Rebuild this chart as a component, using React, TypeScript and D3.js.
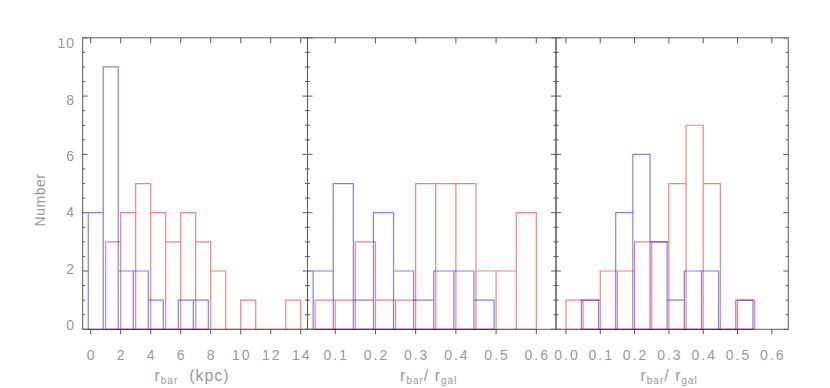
import React from "react";
import * as d3 from "d3";

// ---- data ----
const yTickValues = [0, 2, 4, 6, 8, 10];
const p1TickValues = [0, 2, 4, 6, 8, 10, 12, 14];
const p2TickValues = [0.1, 0.2, 0.3, 0.4, 0.5, 0.6];
const p3TickValues = [0.0, 0.1, 0.2, 0.3, 0.4, 0.5, 0.6];

// panel 1: r_bar (kpc), bin width 1
const p1BlueStart = -0.16;
const p1BlueCounts = [4, 9, 2, 2, 1, 0, 1, 1];
const p1RedStart = 1;
const p1RedCounts = [3, 4, 5, 4, 3, 4, 3, 2, 0, 1, 0, 0, 1];

// panel 2: r_bar / r_gal, bin width 0.05
const p2BlueStart = 0.045;
const p2BlueCounts = [2, 5, 1, 4, 2, 1, 2, 2, 1];
const p2RedStart = 0.05;
const p2RedCounts = [1, 1, 3, 1, 1, 5, 5, 5, 2, 2, 4];

// panel 3: r_bar / r_gal, bin width 0.05
const p3BlueStart = 0.045;
const p3BlueCounts = [1, 0, 4, 6, 3, 1, 2, 2, 0, 1];
const p3RedStart = 0.0;
const p3RedCounts = [1, 1, 2, 2, 3, 3, 5, 7, 5, 0, 1];

const FRAME = "#5a5a5a";
const TEXT = "#999999";
const RED = "rgba(255,0,0,0.5)";
const BLUE = "rgba(0,0,255,0.5)";
const FONT = "'Liberation Sans', Arial, sans-serif";

const y = d3.scaleLinear().domain([0, 10]).range([329.3, 37.8]);
const yLabel = d3.scaleLinear().domain([0, 10]).range([325, 43.5]);

type Panel = {
  x: d3.ScaleLinear<number, number>;
  ticks: number[];
  fmt: (v: number) => string;
  blueStart: number;
  blueCounts: number[];
  redStart: number;
  redCounts: number[];
  width: number;
  title: "kpc" | "ratio";
};

const panels: Panel[] = [
  {
    x: d3.scaleLinear().domain([-0.53, 14.45]).range([82.7, 307.5]),
    ticks: p1TickValues,
    fmt: d3.format("d"),
    blueStart: p1BlueStart,
    blueCounts: p1BlueCounts,
    redStart: p1RedStart,
    redCounts: p1RedCounts,
    width: 1,
    title: "kpc",
  },
  {
    x: d3.scaleLinear().domain([0.031, 0.649]).range([307.5, 556]),
    ticks: p2TickValues,
    fmt: d3.format(".1f"),
    blueStart: p2BlueStart,
    blueCounts: p2BlueCounts,
    redStart: p2RedStart,
    redCounts: p2RedCounts,
    width: 0.05,
    title: "ratio",
  },
  {
    x: d3.scaleLinear().domain([-0.029, 0.648]).range([556, 788.3]),
    ticks: p3TickValues,
    fmt: d3.format(".1f"),
    blueStart: p3BlueStart,
    blueCounts: p3BlueCounts,
    redStart: p3RedStart,
    redCounts: p3RedCounts,
    width: 0.05,
    title: "ratio",
  },
];

function histPath(
  x: d3.ScaleLinear<number, number>,
  start: number,
  width: number,
  counts: number[]
): string {
  const p = d3.path();
  counts.forEach((c, i) => {
    const x0 = x(start + i * width);
    const x1 = x(start + (i + 1) * width);
    p.moveTo(x0, y(0));
    p.lineTo(x0, y(c));
    p.lineTo(x1, y(c));
    p.lineTo(x1, y(0));
    p.lineTo(x0, y(0));
  });
  return p.toString();
}

const minorY = d3.range(0, 10.01, 0.5);

function PanelView({ p }: { p: Panel }) {
  const [xl, xr] = p.x.range();
  const y0 = y(0);
  const y1 = y(10);
  return (
    <g>
      {/* frame */}
      <rect x={xl} y={y1} width={xr - xl} height={y0 - y1} fill="none" stroke={FRAME} strokeWidth={1} />
      {/* y ticks both sides, inward */}
      {minorY.map((v) => {
        const major = Math.abs(v % 2) < 1e-6;
        const len = major ? 5 : 2.5;
        return (
          <g key={v}>
            <line x1={xl} x2={xl + len} y1={y(v)} y2={y(v)} stroke={FRAME} />
            <line x1={xr} x2={xr - len} y1={y(v)} y2={y(v)} stroke={FRAME} />
          </g>
        );
      })}
      {/* x ticks: top inward, bottom outward */}
      {p.ticks.map((v) => (
        <g key={v}>
          <line x1={p.x(v)} x2={p.x(v)} y1={y1} y2={y1 + 5.5} stroke={FRAME} />
          <line x1={p.x(v)} x2={p.x(v)} y1={y0} y2={y0 + 5} stroke={FRAME} />
          <text
            x={p.x(v) + 1}
            y={360}
            textAnchor="middle"
            fontSize={14}
            letterSpacing={2}
            fill={TEXT}
            fontFamily={FONT}
          >
            {p.fmt(v)}
          </text>
        </g>
      ))}
      {/* histograms */}
      <path d={histPath(p.x, p.redStart, p.width, p.redCounts)} fill="none" stroke={RED} strokeWidth={1.2} />
      <path d={histPath(p.x, p.blueStart, p.width, p.blueCounts)} fill="none" stroke={BLUE} strokeWidth={1.2} />
      {/* title */}
      <text
        x={(xl + xr) / 2 - 3}
        y={381}
        textAnchor="middle"
        fontSize={16}
        letterSpacing={1}
        fill={TEXT}
        fontFamily={FONT}
      >
        {p.title === "kpc" ? (
          <>
            <tspan>r</tspan>
            <tspan fontSize={10} dy={3}>bar</tspan>
            <tspan dy={-3}>{"\u00a0\u00a0(kpc)"}</tspan>
          </>
        ) : (
          <>
            <tspan>r</tspan>
            <tspan fontSize={10} dy={3}>bar</tspan>
            <tspan dy={-3}>{"/\u00a0r"}</tspan>
            <tspan fontSize={10} dy={3}>gal</tspan>
          </>
        )}
      </text>
    </g>
  );
}

export default function App() {
  return (
    <svg
      width={830}
      height={388}
      style={{ position: "absolute", left: 0, top: 0, background: "#fff" }}
    >
      {panels.map((p, i) => (
        <PanelView key={i} p={p} />
      ))}
      {yTickValues.map((v) => (
        <text
          key={v}
          x={75}
          y={yLabel(v)}
          dy="0.35em"
          textAnchor="end"
          fontSize={14}
          letterSpacing={1}
          fill={TEXT}
          fontFamily={FONT}
        >
          {v}
        </text>
      ))}
      <text
        transform="translate(45,200) rotate(-90)"
        textAnchor="middle"
        fontSize={14}
        letterSpacing={0.5}
        fill={TEXT}
        fontFamily={FONT}
      >
        Number
      </text>
    </svg>
  );
}
